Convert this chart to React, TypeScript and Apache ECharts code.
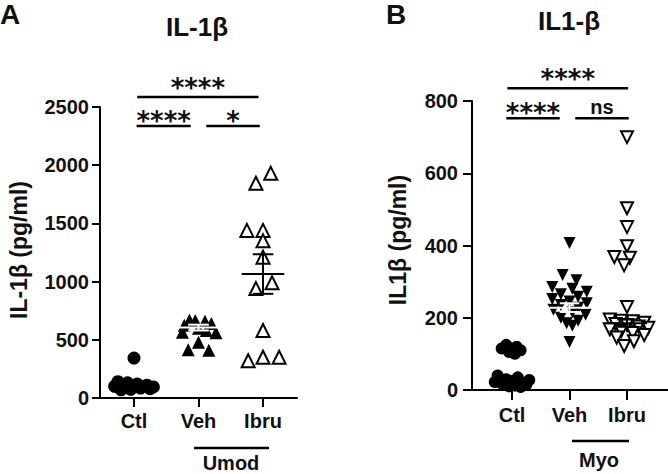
import React, { useEffect, useRef } from "react";
import * as echarts from "echarts";

const categories = ["Ctl", "Veh", "Ibru"];

// Panel A (IL-1β, Umod)
const aCtlValues = [343, 140, 130, 120, 110, 100, 95, 90, 85, 80, 75, 70];
const aCtlJitter = [0, -0.25, -0.1, 0.05, 0.2, -0.3, 0.3, -0.15, 0.1, 0.25, -0.05, -0.2];
const aVehValues = [670, 665, 660, 640, 625, 600, 580, 565, 560, 480, 415, 410];
const aVehJitter = [-0.14, -0.05, 0.1, 0.2, -0.22, 0.0, 0.12, -0.25, 0.27, 0.0, -0.16, 0.16];
const aIbruValues = [1930, 1845, 1440, 1440, 1350, 1210, 990, 940, 580, 350, 350, 320];
const aIbruJitter = [0.12, -0.11, -0.25, 0, 0, 0, 0.14, -0.11, 0, 0, 0.25, -0.23];
const aMeans = [110, 605, 1065];
const aSem = [20, 25, 170];
const aYTicks = [0, 500, 1000, 1500, 2000, 2500];

// Panel B (IL1-β, Myo)
const bCtlValues = [125, 120, 115, 110, 105, 100, 40, 35, 30, 28, 25, 22, 20, 18, 15, 12, 10, 8];
const bCtlJitter = [-0.1, 0.08, -0.18, 0.15, -0.05, 0.05, -0.25, 0.1, -0.1, 0.3, 0.0, -0.3, 0.2, -0.18, 0.25, 0.05, -0.05, 0.15];
const bVehValues = [407, 318, 304, 285, 280, 272, 265, 258, 252, 245, 240, 235, 228, 222, 215, 208, 200, 192, 185, 178, 133];
const bVehJitter = [0, -0.12, 0.12, -0.3, 0.05, 0.3, -0.15, 0.15, -0.3, 0.0, 0.3, -0.15, 0.15, -0.28, 0.05, 0.28, -0.15, 0.15, -0.05, 0.05, 0];
const bIbruValues = [700, 503, 451, 398, 368, 366, 345, 230, 195, 192, 190, 186, 183, 180, 176, 172, 168, 163, 158, 152, 145, 135, 122];
const bIbruJitter = [0, 0, 0, 0, -0.22, 0.05, -0.05, 0, -0.3, -0.1, 0.1, 0.3, -0.2, 0.0, 0.2, 0.37, -0.3, -0.1, 0.1, 0.3, -0.18, 0.12, -0.05];
const bMeans = [30, 228, 185];
const bSem = [8, 12, 10];
const bYTicks = [0, 200, 400, 600, 800];

// significance brackets
const aBracketFrom = [1.05, 1.04, 2.12];
const aBracketTo = [2.93, 1.88, 2.95];
const aBracketY = [2586, 2337, 2337];
const aBracketLabels = ["****", "****", "*"];
const bBracketFrom = [0.92, 0.9, 2.1];
const bBracketTo = [3.02, 1.83, 3.03];
const bBracketY = [835, 752, 752];
const bBracketLabels = ["****", "****", "ns"];

const FONT = "Liberation Sans";
const BLACK = "#111";

const pts = (vals: number[], jit: number[], center: number) =>
  vals.map((v, i) => [center + jit[i], v]);

function meanRender(hw: number, cw: number) {
  return (params: any, api: any) => {
    const x = api.value(0);
    const m = api.value(1);
    const s = api.value(2);
    const col = params.dataIndex === 1 ? "#fff" : "#000";
    const p = (xx: number, yy: number) => api.coord([xx, yy]);
    const a = p(x - hw, m), b = p(x + hw, m);
    const t = p(x, m + s), bt = p(x, m - s);
    const tl = p(x - cw, m + s), tr = p(x + cw, m + s);
    const bl = p(x - cw, m - s), br = p(x + cw, m - s);
    const st = { stroke: col, lineWidth: 2 };
    const ln = (u: number[], v: number[]) => ({
      type: "line",
      shape: { x1: u[0], y1: u[1], x2: v[0], y2: v[1] },
      style: st,
    });
    return {
      type: "group",
      children: [ln(a, b), ln(t, bt), ln(tl, tr), ln(bl, br)],
    };
  };
}

function bracketRender(labels: string[]) {
  return (params: any, api: any) => {
    const f = api.value(0);
    const t = api.value(1);
    const y = api.value(2);
    const label = labels[params.dataIndex];
    const p1 = api.coord([f, y]);
    const p2 = api.coord([t, y]);
    const isTop = t - f > 1.5;
    const star = label.indexOf("*") >= 0;
    const off = star ? (isTop ? -9 : -5) : -11;
    return {
      type: "group",
      children: [
        {
          type: "line",
          shape: { x1: p1[0], y1: p1[1], x2: p2[0], y2: p2[1] },
          style: { stroke: "#000", lineWidth: 2.5 },
        },
        {
          type: "text",
          x: (p1[0] + p2[0]) / 2,
          y: p1[1] + off,
          style: {
            text: label,
            textAlign: "center",
            textVerticalAlign: "middle",
            align: "center",
            verticalAlign: "middle",
            fill: BLACK,
            font: star ? "bold 26px 'DejaVu Sans'" : `bold 20px '${FONT}'`,
          },
        },
      ],
    };
  };
}

const axisLineStyle = { color: "#000", width: 2 };

function xAxisCfg(gridIndex: number, min: number, max: number, tickLen: number, margin: number) {
  return {
    type: "value",
    gridIndex,
    min,
    max,
    axisLine: { show: true, lineStyle: axisLineStyle },
    splitLine: { show: false },
    axisTick: { show: true, customValues: [1, 2, 3], length: tickLen, lineStyle: axisLineStyle },
    axisLabel: {
      customValues: [1, 2, 3],
      formatter: (v: number) => categories[Math.round(v) - 1] ?? "",
      fontFamily: FONT,
      fontWeight: "bold",
      fontSize: 20,
      color: BLACK,
      margin,
    },
  };
}

function yAxisCfg(gridIndex: number, max: number, interval: number, margin: number, tickLen: number) {
  return {
    type: "value",
    gridIndex,
    min: 0,
    max,
    interval,
    axisLine: { show: true, lineStyle: axisLineStyle },
    splitLine: { show: false },
    axisTick: { show: true, length: tickLen, lineStyle: axisLineStyle },
    axisLabel: {
      formatter: (v: number) => String(v),
      fontFamily: FONT,
      fontWeight: "bold",
      fontSize: 20,
      color: BLACK,
      margin,
    },
  };
}

function scatter(xi: number, data: number[][], symbol: string, size: number, hollow: boolean, rotate = 0) {
  return {
    type: "scatter",
    xAxisIndex: xi,
    yAxisIndex: xi,
    data,
    symbol,
    symbolSize: size,
    symbolRotate: rotate,
    itemStyle: hollow
      ? { color: "#fff", borderColor: "#000", borderWidth: 2, opacity: 1 }
      : { color: "#000", opacity: 1 },
    z: 2,
  };
}

export default function App() {
  const ref = useRef<HTMLDivElement>(null);
  useEffect(() => {
    const chart = echarts.init(ref.current!, null, { renderer: "svg" });
    const textStyle = (text: string, size: number, bold = true) => ({
      text,
      font: `${bold ? "bold " : ""}${size}px '${FONT}'`,
      fill: BLACK,
      textAlign: "center",
      textVerticalAlign: "middle",
      align: "center",
      verticalAlign: "middle",
    });
    const option: any = {
      animation: false,
      backgroundColor: "#fff",
      grid: [
        { left: 100, top: 107, width: 197, height: 291 },
        { left: 472, top: 101, width: 196, height: 289 },
      ],
      xAxis: [xAxisCfg(0, 0.473, 3.527, 9, 13), xAxisCfg(1, 0.304, 3.713, 10, 15)],
      yAxis: [yAxisCfg(0, aYTicks[aYTicks.length - 1], aYTicks[1] - aYTicks[0], 11, 8), yAxisCfg(1, bYTicks[bYTicks.length - 1], bYTicks[1] - bYTicks[0], 14, 9)],
      series: [
        scatter(0, pts(aCtlValues, aCtlJitter, 1), "circle", 13, false),
        scatter(0, pts(aVehValues, aVehJitter, 2), "triangle", 13, false),
        scatter(0, pts(aIbruValues, aIbruJitter, 3), "triangle", 13, true),
        scatter(1, pts(bCtlValues, bCtlJitter, 1), "circle", 12, false),
        scatter(1, pts(bVehValues, bVehJitter, 2), "triangle", 12, false, 180),
        scatter(1, pts(bIbruValues, bIbruJitter, 3), "triangle", 12, true, 180),
        {
          type: "custom",
          xAxisIndex: 0,
          yAxisIndex: 0,
          data: aMeans.map((m, i) => [i + 1, m, aSem[i]]),
          renderItem: meanRender(0.33, 0.16),
          z: 5,
        },
        {
          type: "custom",
          xAxisIndex: 1,
          yAxisIndex: 1,
          data: bMeans.map((m, i) => [i + 1, m, bSem[i]]),
          renderItem: meanRender(0.35, 0.17),
          z: 5,
        },
        {
          type: "custom",
          xAxisIndex: 0,
          yAxisIndex: 0,
          clip: false,
          data: aBracketFrom.map((f, i) => [f, aBracketTo[i], aBracketY[i]]),
          renderItem: bracketRender(aBracketLabels),
          z: 5,
        },
        {
          type: "custom",
          xAxisIndex: 1,
          yAxisIndex: 1,
          clip: false,
          data: bBracketFrom.map((f, i) => [f, bBracketTo[i], bBracketY[i]]),
          renderItem: bracketRender(bBracketLabels),
          z: 5,
        },
      ],
      graphic: [
        { type: "text", left: 0, top: 0, style: { text: "A", font: `bold 28px '${FONT}'`, fill: BLACK } },
        { type: "text", left: 386, top: 0, style: { text: "B", font: `bold 28px '${FONT}'`, fill: BLACK } },
        { type: "text", x: 197, y: 27, style: textStyle("IL-1β", 26) },
        { type: "text", x: 569, y: 21, style: textStyle("IL1-β", 26) },
        { type: "text", x: 19, y: 250, rotation: Math.PI / 2, style: textStyle("IL-1β (pg/ml)", 23) },
        { type: "text", x: 398, y: 240, rotation: Math.PI / 2, style: textStyle("IL1β (pg/ml)", 23) },
        { type: "line", shape: { x1: 194, y1: 448, x2: 269, y2: 448 }, style: { stroke: "#000", lineWidth: 2.5 } },
        { type: "text", x: 231, y: 463, style: textStyle("Umod", 20) },
        { type: "line", shape: { x1: 572, y1: 441, x2: 629, y2: 441 }, style: { stroke: "#000", lineWidth: 2.5 } },
        { type: "text", x: 599, y: 460, style: textStyle("Myo", 20) },
      ],
    };
    chart.setOption(option);
    return () => chart.dispose();
  }, []);
  return (
    <div
      ref={ref}
      style={{ position: "fixed", left: 0, top: 0, width: 668, height: 474, background: "#fff" }}
    />
  );
}
